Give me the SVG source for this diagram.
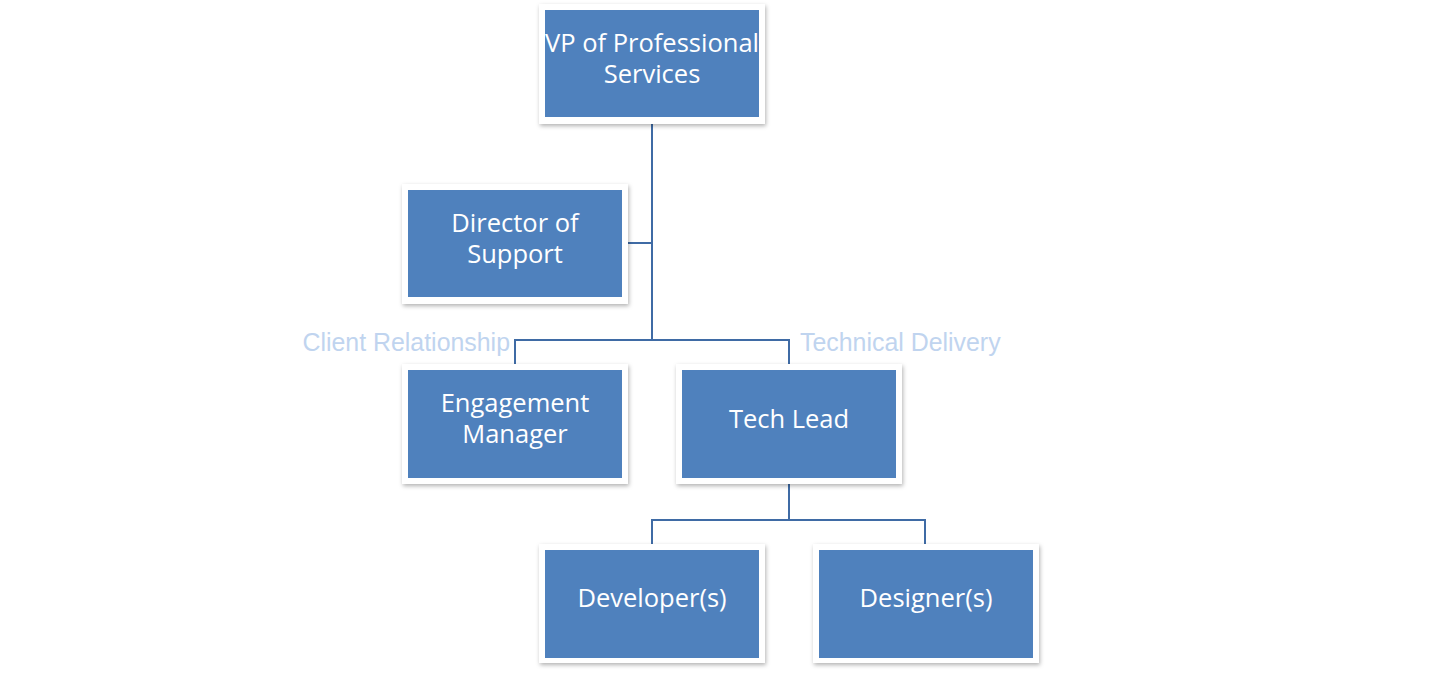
<svg xmlns="http://www.w3.org/2000/svg" width="1441" height="675" viewBox="0 0 1441 675">
<defs>
<filter id="sh" x="-10%" y="-10%" width="120%" height="130%">
<feDropShadow dx="1" dy="2" stdDeviation="2" flood-color="#000" flood-opacity="0.3"/>
</filter>
</defs>
<style>
.card{fill:#ffffff;filter:url(#sh)}
.box{fill:#4f81bd}
.t{font-family:"Open Sans","Noto Sans",sans-serif;font-size:25.5px;fill:#ffffff;text-anchor:middle}
.lbl{font-family:"Liberation Sans",Arial,sans-serif;font-size:24.9px;fill:#c0d4ef}
.c{fill:none;stroke:#3f6ba5;stroke-width:2}
</style>
<rect width="1441" height="675" fill="#ffffff"/>
<g id="connectors">
<path class="c" d="M652 124 V340 M652 243 H628 M515 364 V340 H789 V364 M789 484 V520 M652 544 V520 H925 V544"/>
</g>
<g id="vp">
<rect class="card" x="539" y="4" width="226" height="120"/>
<rect class="box" x="545" y="10" width="214" height="107"/>
<text class="t" x="652" y="52">VP of Professional</text>
<text class="t" x="652" y="83">Services</text>
</g>
<g id="director">
<rect class="card" x="402" y="184" width="226" height="120"/>
<rect class="box" x="408" y="190" width="214" height="107"/>
<text class="t" x="515" y="232">Director of</text>
<text class="t" x="515" y="263">Support</text>
</g>
<g id="engagement">
<rect class="card" x="402" y="364" width="226" height="120"/>
<rect class="box" x="408" y="370" width="214" height="108"/>
<text class="t" x="515" y="412">Engagement</text>
<text class="t" x="515" y="443">Manager</text>
</g>
<g id="techlead">
<rect class="card" x="676" y="364" width="226" height="120"/>
<rect class="box" x="682" y="370" width="214" height="108"/>
<text class="t" x="789" y="428">Tech Lead</text>
</g>
<g id="developer">
<rect class="card" x="539" y="544" width="226" height="119"/>
<rect class="box" x="545" y="550" width="214" height="108"/>
<text class="t" x="652" y="607">Developer(s)</text>
</g>
<g id="designer">
<rect class="card" x="813" y="544" width="226" height="119"/>
<rect class="box" x="819" y="550" width="214" height="108"/>
<text class="t" x="926" y="607">Designer(s)</text>
</g>
<g id="labels">
<text class="lbl" x="510" y="351" text-anchor="end">Client Relationship</text>
<text class="lbl" x="800" y="351">Technical Delivery</text>
</g>
</svg>
